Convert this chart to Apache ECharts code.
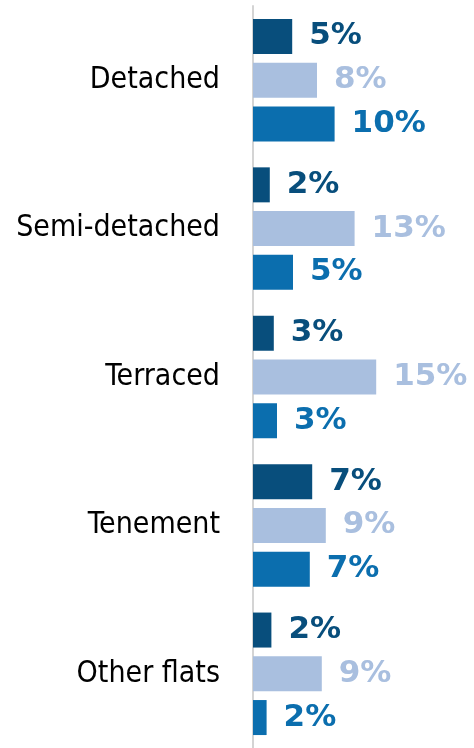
<!DOCTYPE html>
<html>
<head>
<meta charset="utf-8">
<script src="https://cdn.jsdelivr.net/npm/echarts@6/dist/echarts.min.js"></script>
<style>
  html, body { margin: 0; padding: 0; background: #fff; }
  #chart { width: 474px; height: 748px; }
</style>
</head>
<body>
<div id="chart"></div>
<script>
// dwelling types, top to bottom
const categories = ['Detached', 'Semi-detached', 'Terraced', 'Tenement', 'Other flats']

// three series (labels are the rounded values)
const seriesA = [4.9, 2.1, 2.6, 7.4, 2.3]
const seriesB = [8.0, 12.7, 15.4, 9.1, 8.6]
const seriesC = [10.2, 5.0, 3.0, 7.1, 1.7]

const colors = ['#084e7c', '#a9bfdf', '#0b6eae']

const chart = echarts.init(document.getElementById('chart'))

const makeSeries = (data, color) => ({
  type: 'bar',
  data: data,
  barWidth: 35,
  barGap: '25%',
  itemStyle: {color: color},
  label: {
    show: true,
    position: 'right',
    distance: 17,
    color: color,
    fontFamily: 'DejaVu Sans',
    fontWeight: 'bold',
    fontSize: 31,
    formatter: p => Math.round(p.value) + '%'
  }
})

chart.setOption({
  animation: false,
  grid: {left: 253, right: 5, top: 6, bottom: -5, containLabel: false},
  xAxis: {
    type: 'value',
    min: 0,
    max: 27,
    show: false
  },
  yAxis: {
    type: 'category',
    data: categories,
    inverse: true,
    axisTick: {show: false},
    axisLine: {lineStyle: {color: '#d4d4d4', width: 2}},
    axisLabel: {
      margin: 33,
      color: '#000',
      fontFamily: 'DejaVu Sans Condensed, DejaVu Sans',
      fontSize: 30
    }
  },
  series: [
    makeSeries(seriesA, colors[0]),
    makeSeries(seriesB, colors[1]),
    makeSeries(seriesC, colors[2])
  ]
})
</script>
</body>
</html>
